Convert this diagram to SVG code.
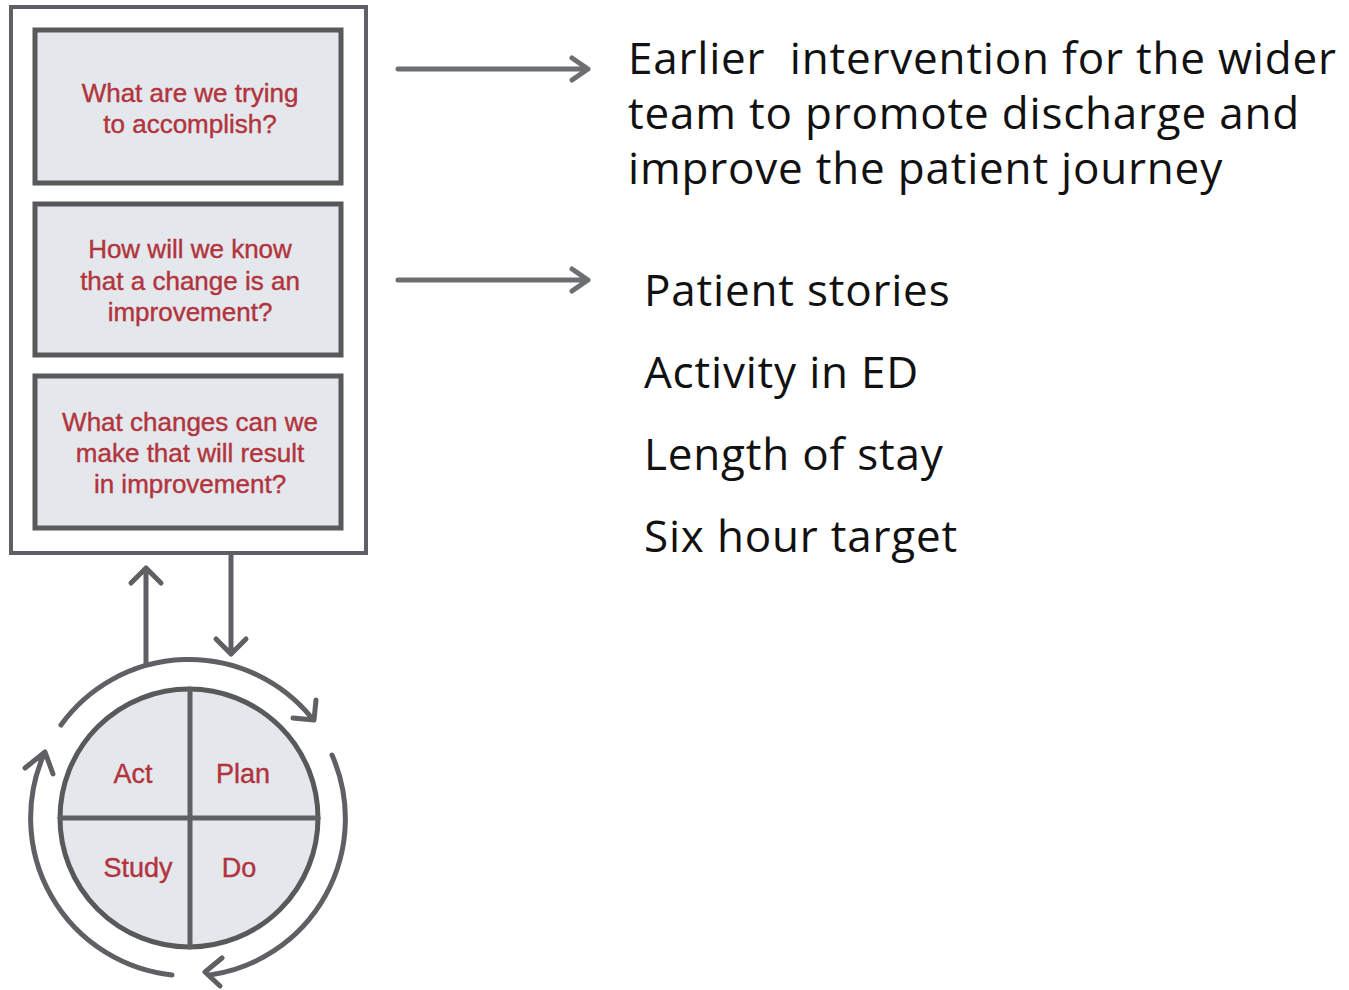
<svg xmlns="http://www.w3.org/2000/svg" width="1349" height="990" viewBox="0 0 1349 990">
<style>
.frame{fill:#ffffff;stroke:#5f6063;stroke-width:4}
.box{fill:#e4e7ec;stroke:#58595b;stroke-width:5}
.q{font-family:"Liberation Sans",Arial,sans-serif;font-size:26px;fill:#b2343c;text-anchor:middle;stroke:#b2343c;stroke-width:0.4}
.c{font-size:27px}
.r{font-family:"Open Sans","Noto Sans",sans-serif;font-size:44px;letter-spacing:0.8px;fill:#111111;white-space:pre}
.ln{fill:none;stroke:#5f6063;stroke-width:5;stroke-linecap:round;stroke-linejoin:round}
.ar{fill:none;stroke:#6d6e71;stroke-width:5;stroke-linecap:round;stroke-linejoin:round}
</style>
<g id="frame"><rect class="frame" x="11" y="7" width="355" height="546"/></g>
<g id="q1"><rect class="box" x="35" y="30" width="306" height="153"/>
<text class="q" x="190" y="102">What are we trying</text>
<text class="q" x="190" y="133">to accomplish?</text></g>
<g id="q2"><rect class="box" x="35" y="204" width="306" height="151"/>
<text class="q" x="190" y="258">How will we know</text>
<text class="q" x="190" y="290">that a change is an</text>
<text class="q" x="190" y="321">improvement?</text></g>
<g id="q3"><rect class="box" x="35" y="376" width="306" height="152"/>
<text class="q" x="190" y="431">What changes can we</text>
<text class="q" x="190" y="462">make that will result</text>
<text class="q" x="190" y="493">in improvement?</text></g>
<g id="pdsa">
<circle cx="189" cy="818" r="129" fill="#e4e7ec" stroke="#58595b" stroke-width="5"/>
<line class="ln" x1="190" y1="689" x2="190" y2="947"/>
<line class="ln" x1="60" y1="818" x2="318" y2="818"/>
<text class="q c" x="133" y="783">Act</text>
<text class="q c" x="243" y="783">Plan</text>
<text class="q c" x="138" y="877">Study</text>
<text class="q c" x="239" y="877">Do</text>
</g>
<g id="connectors">
<path class="ln" d="M146 664 V568 M131 583 L146 568 L161 583"/>
<path class="ln" d="M231 555 V654 M216 639 L231 654 L246 639"/>
<path class="ln" d="M61 725 A158 158 0 0 1 311 717 M293 718 L314 720 L316 700"/>
<path class="ln" d="M332 755 A158 158 0 0 1 210 975 M222 958 L205 972 L220 986"/>
<path class="ln" d="M172 975 A158 158 0 0 1 45 752 M25 768 L45 752 L53 774"/>
<path class="ar" d="M398 69 H588 M572 58 L588 69 L572 80"/>
<path class="ar" d="M398 280 H588 M572 269 L588 280 L572 291"/>
</g>
<g id="answers">
<text class="r" x="628" y="74" xml:space="preserve">Earlier  intervention for the wider</text>
<text class="r" x="628" y="129">team to promote discharge and</text>
<text class="r" x="628" y="184">improve the patient journey</text>
<text class="r" x="644" y="306">Patient stories</text>
<text class="r" x="644" y="388">Activity in ED</text>
<text class="r" x="644" y="470">Length of stay</text>
<text class="r" x="644" y="552">Six hour target</text>
</g>
</svg>
